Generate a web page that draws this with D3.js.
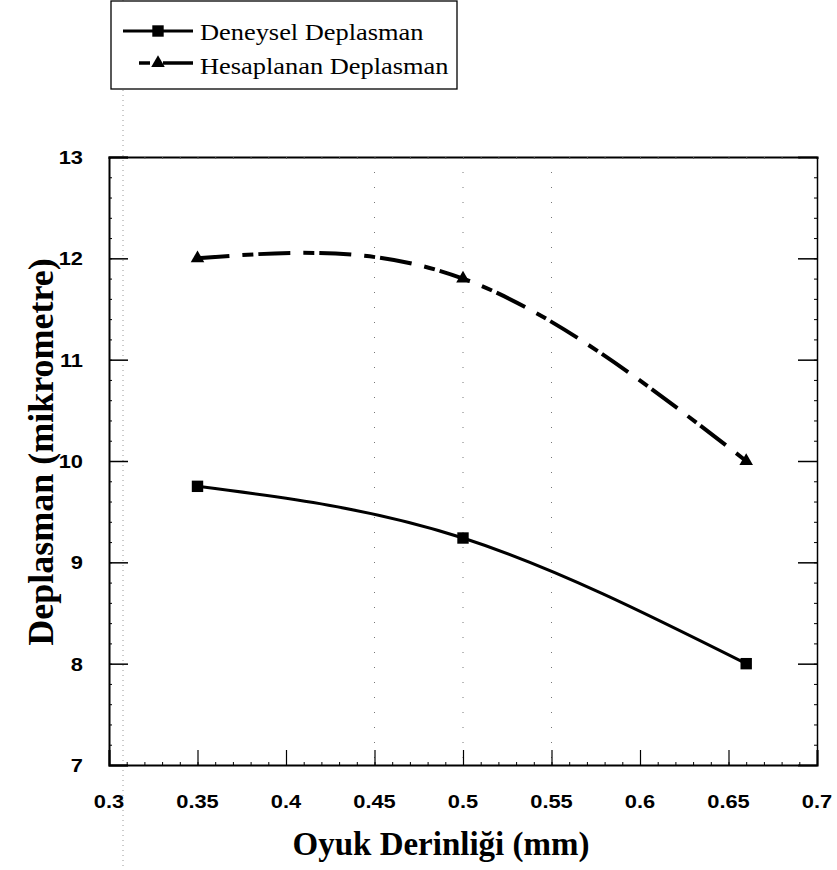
<!DOCTYPE html>
<html>
<head>
<meta charset="utf-8">
<script src="https://cdn.jsdelivr.net/npm/d3@7"></script>
<style>
  html, body { margin: 0; padding: 0; background: #fff; }
  svg { display: block; }
</style>
</head>
<body>
<svg id="chart" width="837" height="870"></svg>
<script>
// ---- data ----
const depths = [0.35, 0.5, 0.66];                 // Oyuk Derinliği (mm)
const deneysel = [9.75, 9.24, 8.0];               // Deneysel Deplasman
const hesaplanan = [12.0, 11.8, 10.0];            // Hesaplanan Deplasman
const xTickValues = [0.3, 0.35, 0.4, 0.45, 0.5, 0.55, 0.6, 0.65, 0.7];
const xTickLabels = ["0.3", "0.35", "0.4", "0.45", "0.5", "0.55", "0.6", "0.65", "0.7"];
const yTickValues = [7, 8, 9, 10, 11, 12, 13];
const yTickLabels = ["7", "8", "9", "10", "11", "12", "13"];
const seriesNames = ["Deneysel Deplasman", "Hesaplanan Deplasman"];
const xTitle = "Oyuk Derinliği (mm)";
const yTitle = "Deplasman (mikrometre)";

// ---- layout ----
const L = 109, R = 817, T = 157, B = 765;
const svg = d3.select("#chart");
const x = d3.scaleLinear().domain([0.3, 0.7]).range([L, R]);
const y = d3.scaleLinear().domain([7, 13]).range([B, T]);

const SANS = "'Liberation Sans', Arial, sans-serif";
const SERIF = "'Liberation Serif', 'Times New Roman', serif";

function sText(parent, px, py, str, opts) {
  const o = Object.assign({sx: 1.15, size: 19, family: SANS, weight: "bold", anchor: "middle", rotate: 0}, opts || {});
  return parent.append("text")
    .attr("transform", `translate(${px},${py}) rotate(${o.rotate}) scale(${o.sx},1)`)
    .attr("font-family", o.family)
    .attr("font-weight", o.weight)
    .attr("font-size", o.size)
    .attr("text-anchor", o.anchor)
    .attr("fill", "#000")
    .text(str);
}

// scan artifact dotted vertical line
svg.append("line")
  .attr("x1", 123).attr("x2", 123).attr("y1", 0).attr("y2", 870)
  .attr("stroke", "#999").attr("stroke-width", 1).attr("stroke-dasharray", "1,4");

// faint dotted gridlines
svg.append("g").selectAll("line").data([0.45, 0.5, 0.55]).join("line")
  .attr("x1", d => x(d)).attr("x2", d => x(d)).attr("y1", T).attr("y2", B)
  .attr("stroke", "#777").attr("stroke-width", 1).attr("stroke-dasharray", "1,14");

// ---- axes (all four sides, ticks inward) ----
const frame = svg.append("g");
const minorX = d3.range(30, 71).map(v => v / 100);
const minorY = d3.range(35, 66).map(v => v / 5);

// bottom
frame.append("g").attr("transform", `translate(0,${B})`)
  .call(d3.axisBottom(x).tickValues(minorX).tickSize(-3).tickFormat(""))
  .call(g => g.select(".domain").remove())
  .call(g => g.selectAll("line").attr("stroke-width", 1));
frame.append("g").attr("transform", `translate(0,${B})`)
  .call(d3.axisBottom(x).tickValues(xTickValues).tickSize(-15).tickFormat(""))
  .call(g => g.select(".domain").attr("stroke-width", 2))
  .call(g => g.selectAll(".tick line").attr("stroke-width", 1.2));
// top
frame.append("g").attr("transform", `translate(0,${T})`)
  .call(d3.axisTop(x).tickValues(minorX).tickSize(-2).tickFormat(""))
  .call(g => g.select(".domain").attr("stroke-width", 2))
  .call(g => g.selectAll(".tick line").attr("stroke", "#555"));
// left
frame.append("g").attr("transform", `translate(${L},0)`)
  .call(d3.axisLeft(y).tickValues(minorY).tickSize(-3).tickFormat(""))
  .call(g => g.select(".domain").remove());
frame.append("g").attr("transform", `translate(${L},0)`)
  .call(d3.axisLeft(y).tickValues(yTickValues).tickSize(-19).tickFormat(""))
  .call(g => g.select(".domain").attr("stroke-width", 2))
  .call(g => g.selectAll(".tick line").attr("stroke-width", 1.5));
// right
frame.append("g").attr("transform", `translate(${R},0)`)
  .call(d3.axisRight(y).tickValues(minorY).tickSize(-3).tickFormat(""))
  .call(g => g.select(".domain").remove());
frame.append("g").attr("transform", `translate(${R},0)`)
  .call(d3.axisRight(y).tickValues(yTickValues).tickSize(-19).tickFormat(""))
  .call(g => g.select(".domain").attr("stroke-width", 1.5))
  .call(g => g.selectAll(".tick line").attr("stroke-width", 1.5));

// tick labels
const tl = svg.append("g");
xTickValues.forEach((v, i) => sText(tl, x(v), 808, xTickLabels[i]));
yTickValues.forEach((v, i) => sText(tl, 83, y(v) + 7, yTickLabels[i], {anchor: "end"}));

// axis titles
sText(svg, 441, 855, xTitle, {size: 33, family: SERIF, sx: 1.0});
sText(svg, 53, 452, yTitle, {size: 36, family: SERIF, sx: 1.0, rotate: -90});

// ---- series ----
const line = d3.line().x(d => x(d[0])).y(d => y(d[1])).curve(d3.curveNatural);
const dData = depths.map((d, i) => [d, deneysel[i]]);
const hData = depths.map((d, i) => [d, hesaplanan[i]]);

svg.append("path").datum(dData).attr("d", line)
  .attr("fill", "none").attr("stroke", "#000").attr("stroke-width", 3);
svg.append("path").datum(hData).attr("d", line)
  .attr("fill", "none").attr("stroke", "#000").attr("stroke-width", 4)
  .attr("stroke-dasharray", "32,13,11,5");

const sq = d3.symbol().type(d3.symbolSquare).size(130);
const tri = d3.symbol().type(d3.symbolTriangle).size(80);
svg.append("g").selectAll("path").data(dData).join("path")
  .attr("transform", d => `translate(${x(d[0])},${y(d[1])})`).attr("d", sq).attr("fill", "#000");
svg.append("g").selectAll("path").data(hData).join("path")
  .attr("transform", d => `translate(${x(d[0])},${y(d[1])})`).attr("d", tri).attr("fill", "#000");

// ---- legend ----
const lg = svg.append("g");
lg.append("rect").attr("x", 111).attr("y", 1).attr("width", 346).attr("height", 88)
  .attr("fill", "#fff").attr("stroke", "#000").attr("stroke-width", 1.3);
lg.append("line").attr("x1", 123).attr("x2", 193).attr("y1", 31).attr("y2", 31)
  .attr("stroke", "#000").attr("stroke-width", 3);
lg.append("path").attr("transform", "translate(158,31)").attr("d", sq).attr("fill", "#000");
lg.append("line").attr("x1", 139).attr("x2", 150).attr("y1", 63).attr("y2", 63)
  .attr("stroke", "#000").attr("stroke-width", 3.5);
lg.append("line").attr("x1", 163).attr("x2", 193).attr("y1", 63).attr("y2", 63)
  .attr("stroke", "#000").attr("stroke-width", 3.5);
lg.append("path").attr("transform", "translate(158,63)").attr("d", tri).attr("fill", "#000");
sText(lg, 200, 40, seriesNames[0], {size: 24, family: SERIF, weight: "normal", anchor: "start", sx: 1.1});
sText(lg, 200, 74, seriesNames[1], {size: 24, family: SERIF, weight: "normal", anchor: "start", sx: 1.1});
</script>
</body>
</html>
